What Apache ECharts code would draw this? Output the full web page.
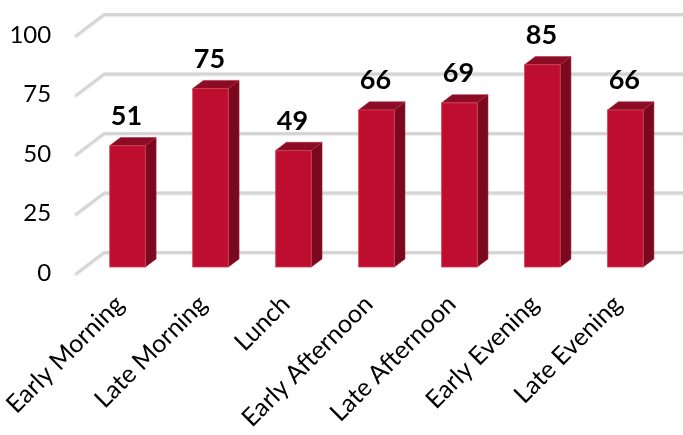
<!DOCTYPE html>
<html>
<head>
<meta charset="utf-8">
<script src="https://cdn.jsdelivr.net/npm/echarts@6/dist/echarts.min.js"></script>
<style>
html,body{margin:0;padding:0;background:#fff;}
#chart{width:683px;height:435px;}
</style>
</head>
<body>
<div id="chart"></div>
<script>
const categories = ['Early Morning', 'Late Morning', 'Lunch', 'Early Afternoon', 'Late Afternoon', 'Early Evening', 'Late Evening'];
const values = [51, 75, 49, 66, 69, 85, 66];
const yTicks = [0, 25, 50, 75, 100];

const DEPTH_X = 29, DEPTH_Y = 22;
const D0 = 0.27, D1 = 0.64;
const FONT = 'Lato, "Open Sans", sans-serif';

const chart = echarts.init(document.getElementById('chart'), null, {renderer: 'canvas'});

function renderGrid(params, api) {
  const cs = params.coordSys;
  const y = api.coord([0, api.value(1)])[1];
  const xl = cs.x;
  return {
    type: 'polyline',
    shape: {points: [[xl - 3, y + 1], [xl + DEPTH_X - 3, y - DEPTH_Y + 1], [cs.x + cs.width + DEPTH_X + 10, y - DEPTH_Y + 1]]},
    style: {stroke: '#d6d6d6', lineWidth: 2, fill: null, shadowColor: 'rgba(0,0,0,0.25)', shadowBlur: 2, shadowOffsetY: 1},
    silent: true
  };
}

function renderBar(params, api) {
  const idx = api.value(0), val = api.value(1);
  const base = api.coord([idx, 0]);
  const top = api.coord([idx, val]);
  const band = api.size([1, 0])[0];
  const w = band * 0.43;
  const x0 = base[0] - w / 2 + D0 * DEPTH_X;
  const x1 = x0 + w;
  const yb = base[1] - D0 * DEPTH_Y;
  const yt = top[1] - D0 * DEPTH_Y;
  const dx = (D1 - D0) * DEPTH_X, dy = (D1 - D0) * DEPTH_Y;
  return {
    type: 'group',
    children: [
      {type: 'polygon', shape: {points: [[x1, yb], [x1, yt], [x1 + dx, yt - dy], [x1 + dx, yb - dy]]},
        style: {fill: '#7a0920', stroke: '#a3223a', lineWidth: 0.6}},
      {type: 'polygon', shape: {points: [[x0, yt], [x1, yt], [x1 + dx, yt - dy], [x0 + dx, yt - dy]]},
        style: {fill: '#8c0b25', stroke: '#b02a42', lineWidth: 0.6}},
      {type: 'rect', shape: {x: x0, y: yt, width: w, height: yb - yt},
        style: {fill: '#be0e2f', stroke: '#d4425c', lineWidth: 0.8}},
      {type: 'text', style: {text: String(val), x: (x0 + x1) / 2 - 1, y: yt - dy - 8, align: 'center', verticalAlign: 'bottom',
        font: 'bold 27px ' + FONT, fill: '#000'}}
    ]
  };
}

chart.setOption({
  animation: false,
  grid: {left: 76, width: 583, top: 35, bottom: 162, containLabel: false},
  xAxis: {
    type: 'category',
    data: categories,
    axisLine: {show: false},
    axisTick: {show: false},
    axisLabel: {rotate: 45, interval: 0, margin: 27, fontSize: 25, color: '#000', fontFamily: FONT}
  },
  yAxis: {
    type: 'value',
    min: 0, max: 100, interval: 25,
    axisLine: {show: false},
    axisTick: {show: false},
    splitLine: {show: false},
    axisLabel: {margin: 27, fontSize: 24, color: '#000', fontFamily: FONT}
  },
  series: [
    {type: 'custom', renderItem: renderGrid, data: yTicks.map(v => [0, v]), encode: {x: 0, y: 1}, z: 1, clip: false, silent: true},
    {type: 'custom', renderItem: renderBar, data: values.map((v, i) => [i, v]), encode: {x: 0, y: 1}, z: 2, clip: false}
  ]
});
</script>
</body>
</html>
